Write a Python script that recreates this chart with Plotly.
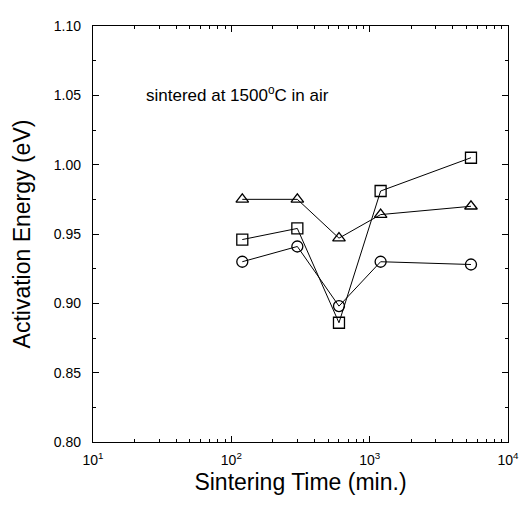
import plotly.graph_objects as go

time_min = [120, 300, 600, 1200, 5400]
square_vals = [0.946, 0.954, 0.886, 0.981, 1.005]
triangle_vals = [0.975, 0.975, 0.947, 0.964, 0.970]
circle_vals = [0.930, 0.941, 0.898, 0.930, 0.928]

x_tickvals = [10, 100, 1000, 10000]
x_ticktext = ["10<sup>1</sup>", "10<sup>2</sup>", "10<sup>3</sup>", "10<sup>4</sup>"]
y_tickvals = [0.80, 0.85, 0.90, 0.95, 1.00, 1.05, 1.10]
y_ticktext = ["0.80", "0.85", "0.90", "0.95", "1.00", "1.05", "1.10"]

x_minor = [m * d for d in (10, 100, 1000) for m in range(2, 10)]

FONT = "Liberation Sans, Arial"

fig = go.Figure()
series = [
    (square_vals, "square-open"),
    (triangle_vals, "triangle-up-open"),
    (circle_vals, "circle-open"),
]
for vals, sym in series:
    fig.add_trace(go.Scatter(
        x=time_min, y=vals, mode="lines+markers",
        line=dict(color="black", width=1),
        marker=dict(symbol=sym, size=11, color="black", line=dict(width=1.3, color="black")),
        showlegend=False,
    ))

fig.add_annotation(
    x=0.123, y=1.051, xref="paper", yref="y",
    text="sintered at 1500<sup>o</sup>C in air",
    showarrow=False, xanchor="left", yanchor="middle",
    font=dict(family=FONT, size=17, color="black"),
)

axis_common = dict(
    showline=True, linecolor="black", linewidth=1.3, mirror="ticks",
    ticks="inside", ticklen=6, tickcolor="black", tickwidth=1,
    showgrid=False, zeroline=False,
    tickfont=dict(family=FONT, size=14, color="black"),
)

fig.update_xaxes(
    type="log", range=[1, 4],
    tickvals=x_tickvals, ticktext=x_ticktext,
    ticklabelstandoff=5,
    title=dict(text="Sintering Time (min.)", font=dict(family=FONT, size=23, color="black"), standoff=6),
    minor=dict(ticks="inside", ticklen=3, tickcolor="black", tickvals=x_minor, showgrid=False),
    **axis_common,
)
fig.update_yaxes(
    range=[0.80, 1.10],
    tickvals=y_tickvals, ticktext=y_ticktext,
    ticklabelstandoff=8,
    title=dict(text="Activation Energy (eV)", font=dict(family=FONT, size=23, color="black"), standoff=16),
    minor=dict(ticks="inside", ticklen=3, tickcolor="black", dtick=0.025, showgrid=False),
    **axis_common,
)

fig.update_layout(
    width=521, height=492,
    margin=dict(l=85, r=12, t=10, b=54),
    paper_bgcolor="white", plot_bgcolor="white",
)

fig.write_html("out.html")
